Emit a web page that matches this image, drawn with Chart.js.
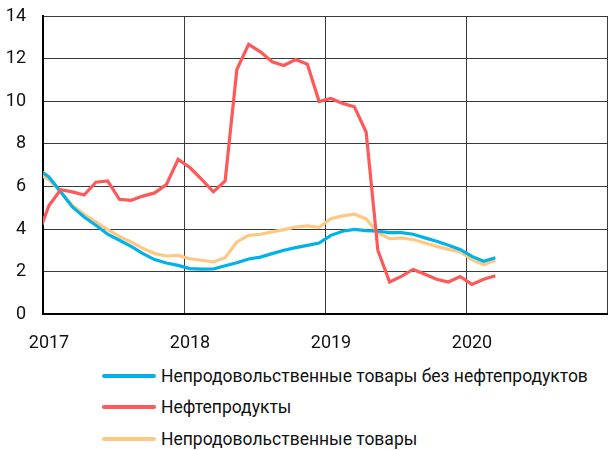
<!DOCTYPE html>
<html>
<head>
<meta charset="utf-8">
<script src="https://cdn.jsdelivr.net/npm/chart.js@4"></script>
<style>
  html, body { margin: 0; padding: 0; background: #fff; }
  body { width: 608px; height: 450px; overflow: hidden; font-family: Roboto, sans-serif; }
  #wrap { position: relative; width: 608px; height: 372px; }
  #legend { margin: -12px 0 0 102px; padding: 0; list-style: none; }
  #legend li { display: flex; align-items: center; height: 31.5px; font-size: 17.5px; color: #111; white-space: nowrap; }
  #legend li span { display: inline-block; flex: none; width: 54px; height: 4px; margin-right: 5px; border-radius: 2px; }
</style>
</head>
<body>
<div id="wrap"><canvas id="chart"></canvas></div>
<ul id="legend"></ul>
<script>
// monthly points, Dec 2016 - Mar 2020
const months = [
    '2016-12',
    '2017-01', '2017-02', '2017-03', '2017-04', '2017-05', '2017-06',
    '2017-07', '2017-08', '2017-09', '2017-10', '2017-11', '2017-12',
    '2018-01', '2018-02', '2018-03', '2018-04', '2018-05', '2018-06',
    '2018-07', '2018-08', '2018-09', '2018-10', '2018-11', '2018-12',
    '2019-01', '2019-02', '2019-03', '2019-04', '2019-05', '2019-06',
    '2019-07', '2019-08', '2019-09', '2019-10', '2019-11', '2019-12',
    '2020-01', '2020-02', '2020-03'
];

const nonFoodExOil = [
    6.85,
    6.45, 5.75, 5.04, 4.57, 4.18, 3.76, 3.48, 3.19, 2.85, 2.57, 2.41, 2.30,
    2.15, 2.12, 2.13, 2.28, 2.42, 2.60, 2.69, 2.85, 3.01, 3.13, 3.24, 3.35,
    3.71, 3.90, 3.99, 3.93, 3.90, 3.84, 3.84, 3.76, 3.59, 3.43, 3.24, 3.05,
    2.72, 2.49, 2.66
];

const oilProducts = [
    3.6,
    5.10, 5.85, 5.75, 5.60, 6.20, 6.26, 5.40, 5.35, 5.55, 5.70, 6.09, 7.27,
    6.89, 6.33, 5.75, 6.26, 11.49, 12.67, 12.32, 11.85, 11.68, 11.96, 11.74, 9.99,
    10.13, 9.90, 9.74, 8.56, 3.00, 1.52, 1.78, 2.11, 1.88, 1.65, 1.52, 1.78,
    1.41, 1.65, 1.81
];

const nonFood = [
    6.64,
    6.32, 5.75, 5.12, 4.70, 4.34, 3.98, 3.66, 3.40, 3.10, 2.85, 2.74, 2.77,
    2.61, 2.54, 2.46, 2.66, 3.40, 3.71, 3.76, 3.87, 3.98, 4.10, 4.15, 4.08,
    4.49, 4.62, 4.70, 4.48, 3.82, 3.55, 3.59, 3.51, 3.35, 3.19, 3.05, 2.93,
    2.57, 2.33, 2.54
];

const seriesNames = [
    'Непродовольственные товары без нефтепродуктов',
    'Нефтепродукты',
    'Непродовольственные товары'
];
const seriesColors = ['rgb(0, 178, 230)', 'rgb(255, 88, 88)', 'rgb(255, 200, 130)'];
const yearTicks = ['2017', '2018', '2019', '2020'];

// mid-month position on a year axis
function monthPos(m) {
    const parts = m.split('-');
    return Number(parts[0]) + (Number(parts[1]) - 0.5) / 12;
}

function toPoints(values) {
    return values.map((v, i) => ({ x: monthPos(months[i]), y: v }));
}

const gridColor = '#3a3a3a';
const tickFont = { family: 'Roboto', size: 18 };

const ctx = document.getElementById('chart').getContext('2d');

var data = {
    datasets: [
        { label: seriesNames[0], data: toPoints(nonFoodExOil), borderColor: seriesColors[0] },
        { label: seriesNames[1], data: toPoints(oilProducts), borderColor: seriesColors[1] },
        { label: seriesNames[2], data: toPoints(nonFood), borderColor: seriesColors[2] }
    ].map(d => Object.assign(d, {
        backgroundColor: d.borderColor,
        borderWidth: 3.2,
        pointRadius: 0,
        tension: 0,
        fill: false,
        clip: 0
    }))
};

// draw order: orange under blue, red on top
data.datasets[0].order = 2;
data.datasets[1].order = 1;
data.datasets[2].order = 3;

var config = {
    type: 'line',
    data: data,
    options: {
        responsive: true,
        maintainAspectRatio: false,
        animation: false,
        layout: { padding: { top: 16, right: 1, left: 0, bottom: 0 } },
        plugins: {
            legend: { display: false },
            tooltip: { enabled: false }
        },
        scales: {
            x: {
                type: 'linear',
                min: 2017,
                max: 2021,
                grid: { color: gridColor, lineWidth: 1, drawTicks: false },
                border: { color: '#000', width: 2 },
                afterFit: (scale) => { scale.paddingLeft = 0; scale.paddingRight = 0; },
                ticks: {
                    stepSize: 1,
                    padding: 18,
                    labelOffset: 6,
                    maxRotation: 0,
                    color: '#111',
                    font: tickFont,
                    callback: (v) => yearTicks.includes(String(v)) ? String(v) : ''
                }
            },
            y: {
                min: 0,
                max: 14,
                grid: { color: gridColor, lineWidth: 1, drawTicks: false },
                border: { color: '#000', width: 2 },
                afterFit: (scale) => { scale.width = 43; scale.paddingTop = 0; scale.paddingBottom = 0; },
                ticks: {
                    stepSize: 2,
                    padding: 17,
                    color: '#111',
                    font: tickFont
                }
            }
        }
    }
};

const chart = new Chart(ctx, config);

// legend, one series per row
const legend = document.getElementById('legend');
data.datasets.forEach(d => {
    const li = document.createElement('li');
    const sw = document.createElement('span');
    sw.style.background = d.borderColor;
    li.appendChild(sw);
    li.appendChild(document.createTextNode(d.label));
    legend.appendChild(li);
});
</script>
</body>
</html>
